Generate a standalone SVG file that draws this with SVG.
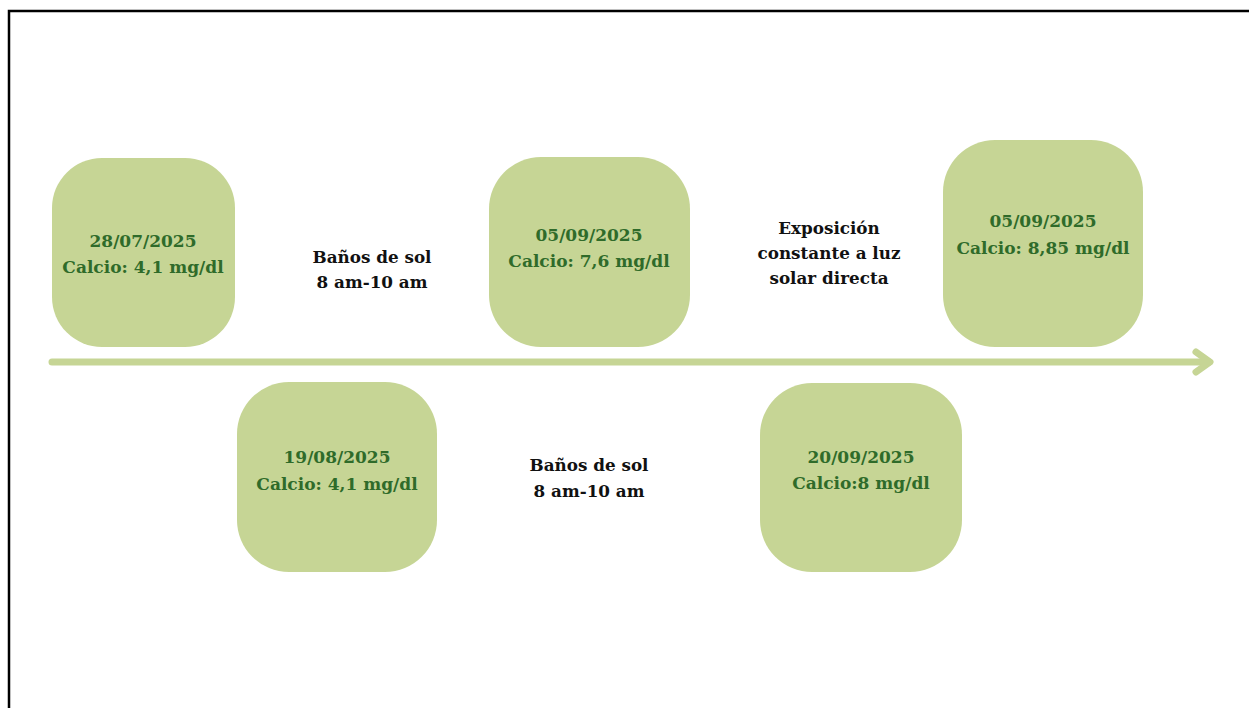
<svg xmlns="http://www.w3.org/2000/svg" width="1249" height="708" viewBox="0 0 1249 708">
<style>
.box{fill:#c6d595}
.g{font-family:"DejaVu Serif",serif;font-weight:bold;font-size:17px;fill:#2f6b2a;text-anchor:middle}
.k{font-family:"DejaVu Serif",serif;font-weight:bold;font-size:16.8px;fill:#111;text-anchor:middle}
.ax{stroke:#c6d595;stroke-width:7;fill:none;stroke-linecap:round;stroke-linejoin:round}
</style>
<rect width="1249" height="708" fill="#fff"/>
<path d="M9,708 V11 H1249" fill="none" stroke="#000" stroke-width="2.5"/>
<g id="connectors">
<path class="ax" d="M52,362 H1209"/>
<path class="ax" d="M1196,352 L1210,362 L1196,372"/>
</g>
<g id="n1"><rect class="box" x="52" y="158" width="183" height="189" rx="50"/>
<text class="g" x="143" y="247">28/07/2025</text><text class="g" x="143" y="273">Calcio: 4,1 mg/dl</text></g>
<g id="l1"><text class="k" x="372" y="263">Baños de sol</text><text class="k" x="372" y="288">8 am-10 am</text></g>
<g id="n2"><rect class="box" x="489" y="157" width="201" height="190" rx="52"/>
<text class="g" x="589" y="241">05/09/2025</text><text class="g" x="589" y="267">Calcio: 7,6 mg/dl</text></g>
<g id="l2"><text class="k" x="829" y="234">Exposición</text><text class="k" x="829" y="259">constante a luz</text><text class="k" x="829" y="284">solar directa</text></g>
<g id="n3"><rect class="box" x="943" y="140" width="200" height="207" rx="52"/>
<text class="g" x="1043" y="227">05/09/2025</text><text class="g" x="1043" y="254">Calcio: 8,85 mg/dl</text></g>
<g id="n4"><rect class="box" x="237" y="382" width="200" height="190" rx="52"/>
<text class="g" x="337" y="463">19/08/2025</text><text class="g" x="337" y="490">Calcio: 4,1 mg/dl</text></g>
<g id="l3"><text class="k" x="589" y="471">Baños de sol</text><text class="k" x="589" y="497">8 am-10 am</text></g>
<g id="n5"><rect class="box" x="760" y="383" width="202" height="189" rx="52"/>
<text class="g" x="861" y="463">20/09/2025</text><text class="g" x="861" y="489">Calcio:8 mg/dl</text></g>
</svg>
